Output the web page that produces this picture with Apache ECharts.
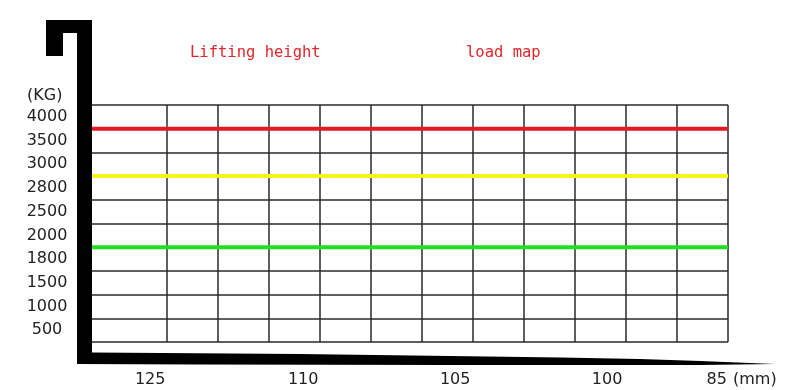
<!DOCTYPE html>
<html>
<head>
<meta charset="utf-8">
<script src="https://cdn.jsdelivr.net/npm/echarts@6/dist/echarts.min.js"></script>
<style>html,body{margin:0;padding:0;background:#fff;}#c{width:800px;height:390px;}</style>
</head>
<body>
<div id="c"></div>
<script>
// Y category labels (KG), bottom to top
const loadLabels = ['500', '1000', '1500', '1800', '2000', '2500', '2800', '3000', '3500', '4000'];
// X tick labels
const xLabels = ['125', '110', '105', '100', '85'];
const xLabelPos = [-0.33, 2.67, 5.65, 8.63, 10.78];
// column boundaries of the grid (value-axis units)
const columnLines = [0, 1, 2, 3, 4, 5, 6, 7, 8, 9, 10, 11];
// horizontal span of the load lines
const spanX = [-1.5, 11];
// load lines (row units on the hidden value axis)
const redLevel = [9, 9];
const yellowLevel = [7, 7];
const greenLevel = [4, 4];

const chart = echarts.init(document.getElementById('c'), null, {renderer: 'canvas'});
const font = 'DejaVu Sans';
const gridColor = '#2a2a2a';

function pairs(xs, ys) { return xs.map((x, i) => [x, ys[i]]); }

chart.setOption({
  animation: false,
  backgroundColor: '#fff',
  title: [
    {text: 'Lifting height', left: 190, top: 45, padding: 0,
     textStyle: {fontFamily: 'DejaVu Sans Mono', fontSize: 15.5, fontWeight: 'normal', color: '#e0262a', lineHeight: 16}},
    {text: 'load map', left: 466, top: 45, padding: 0,
     textStyle: {fontFamily: 'DejaVu Sans Mono', fontSize: 15.5, fontWeight: 'normal', color: '#e0262a', lineHeight: 16}},
    {text: '(KG)', left: 27, top: 88, padding: 0,
     textStyle: {fontFamily: font, fontSize: 16, fontWeight: 'normal', color: '#222', lineHeight: 16}}
  ],
  grid: {left: 90.5, width: 637.5, top: 105, height: 237, containLabel: false},
  xAxis: [{
    type: 'value', min: -1.5, max: 11,
    axisLine: {show: false}, axisTick: {show: false}, splitLine: {show: false},
    axisLabel: {
      customValues: xLabelPos,
      formatter: function (v) {
        const i = xLabelPos.findIndex(p => Math.abs(p - v) < 1e-6);
        return i >= 0 ? xLabels[i] : '';
      },
      margin: 30, fontFamily: font, fontSize: 16, color: '#222'
    },
    name: '(mm)', nameLocation: 'end', nameGap: 5,
    nameTextStyle: {fontFamily: font, fontSize: 16, color: '#222', verticalAlign: 'top', lineHeight: 16, padding: [30, 0, 0, 0]}
  }],
  yAxis: [{
    type: 'category', data: loadLabels, boundaryGap: true, position: 'left',
    axisLine: {show: false}, axisTick: {show: false}, splitLine: {show: false},
    axisLabel: {margin: 43.5, align: 'center', fontFamily: font, fontSize: 16, color: '#222'}
  }, {
    type: 'value', min: 0, max: 10, interval: 1, position: 'right',
    axisLine: {show: false}, axisTick: {show: false}, axisLabel: {show: false},
    splitLine: {show: true, lineStyle: {color: gridColor, width: 1.5}}
  }],
  series: [
    {type: 'line', yAxisIndex: 1, data: [], silent: true,
     markLine: {silent: true, symbol: 'none', label: {show: false},
       lineStyle: {color: gridColor, width: 1.5, type: 'solid'},
       data: columnLines.map(v => ({xAxis: v}))}},
    {type: 'line', yAxisIndex: 1, data: pairs(spanX, redLevel), symbol: 'none',
     lineStyle: {color: '#e11b22', width: 4}, z: 5},
    {type: 'line', yAxisIndex: 1, data: pairs(spanX, yellowLevel), symbol: 'none',
     lineStyle: {color: '#f4f41c', width: 4}, z: 5},
    {type: 'line', yAxisIndex: 1, data: pairs(spanX, greenLevel), symbol: 'none',
     lineStyle: {color: '#1fe01f', width: 4}, z: 5}
  ],
  graphic: [{
    type: 'polygon', z: 100, silent: true,
    shape: {points: [
      [46, 20], [92, 20], [92, 352.5], [300, 354], [450, 356], [560, 357.5], [640, 359],
      [700, 361], [775, 364], [700, 365], [450, 365], [200, 364.5], [77, 364],
      [77, 33], [63, 33], [63, 56], [46, 56]
    ]},
    style: {fill: '#000'}
  }]
});
</script>
</body>
</html>
